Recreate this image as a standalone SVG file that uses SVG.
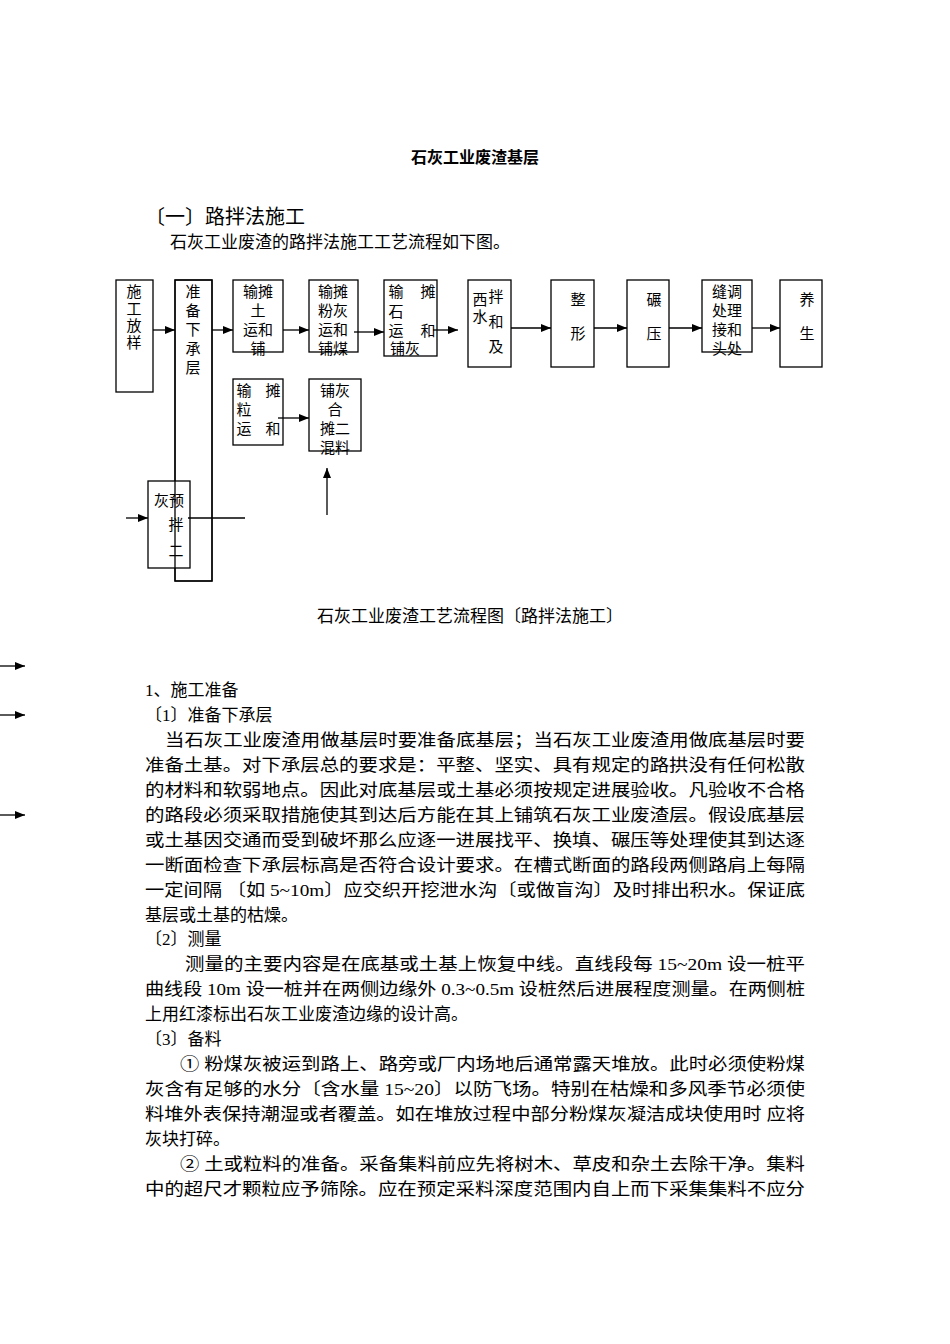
<svg xmlns="http://www.w3.org/2000/svg" width="950" height="1344" viewBox="0 0 950 1344">
<defs><marker id="a" markerWidth="10" markerHeight="8" refX="10" refY="4" orient="auto" markerUnits="userSpaceOnUse"><path d="M0,0L10,4L0,8z" fill="#000"/></marker></defs>
<style>
text{font-family:"Liberation Serif","Noto Sans CJK SC",serif;fill:#000}
.b{font-size:17px}
.n{font-size:15px;text-anchor:middle}
.bx{fill:#fff;stroke:#000;stroke-width:1.3}
line{stroke:#000;stroke-width:1.3}
.ar{marker-end:url(#a)}
</style>
<rect width="950" height="1344" fill="#fff"/>
<text x="475" y="163" font-size="16" font-weight="bold" text-anchor="middle">石灰工业废渣基层</text>
<text x="145" y="224" font-size="20">〔一〕路拌法施工</text>
<text x="170" y="248" class="b">石灰工业废渣的路拌法施工工艺流程如下图。</text>
<g id="n2"><rect class="bx" x="175" y="280" width="37" height="301"/><text class="n" x="193" y="297">准</text><text class="n" x="193" y="316">备</text><text class="n" x="193" y="335">下</text><text class="n" x="193" y="354">承</text><text class="n" x="193" y="373">层</text></g>
<g id="n1"><rect class="bx" x="116" y="280" width="37" height="112"/><text class="n" x="134" y="297">施</text><text class="n" x="134" y="314">工</text><text class="n" x="134" y="331">放</text><text class="n" x="134" y="348">样</text></g>
<g id="n3"><rect class="bx" x="233" y="280" width="50" height="72"/><text class="n" x="258" y="297">输摊</text><text class="n" x="258" y="316">土</text><text class="n" x="258" y="335">运和</text><text class="n" x="258" y="354">铺</text></g>
<g id="n4"><rect class="bx" x="309" y="280" width="49" height="72"/><text class="n" x="333" y="297">输摊</text><text class="n" x="333" y="316">粉灰</text><text class="n" x="333" y="335">运和</text><text class="n" x="333" y="354">铺煤</text></g>
<g id="n5"><rect class="bx" x="384" y="280" width="53" height="76"/><text class="n" x="396" y="297">输</text><text class="n" x="428" y="297">摊</text><text class="n" x="396" y="317">石</text><text class="n" x="396" y="336">运</text><text class="n" x="428" y="336">和</text><text class="n" x="405" y="354">铺灰</text></g>
<g id="n6"><rect class="bx" x="468" y="280" width="43" height="87"/><text class="n" x="480" y="305">西</text><text class="n" x="496" y="302">拌</text><text class="n" x="480" y="322">水</text><text class="n" x="496" y="327">和</text><text class="n" x="496" y="352">及</text></g>
<g id="n7"><rect class="bx" x="551" y="280" width="43" height="87"/><text class="n" x="578" y="305">整</text><text class="n" x="578" y="339">形</text></g>
<g id="n8"><rect class="bx" x="627" y="280" width="42" height="87"/><text class="n" x="654" y="305">碾</text><text class="n" x="654" y="339">压</text></g>
<g id="n9"><rect class="bx" x="702" y="280" width="50" height="72"/><text class="n" x="727" y="297">缝调</text><text class="n" x="727" y="316">处理</text><text class="n" x="727" y="335">接和</text><text class="n" x="727" y="354">头处</text></g>
<g id="n10"><rect class="bx" x="780" y="280" width="42" height="87"/><text class="n" x="807" y="305">养</text><text class="n" x="807" y="339">生</text></g>
<g id="n11"><rect class="bx" x="233" y="379" width="50" height="66"/><text class="n" x="244" y="396">输</text><text class="n" x="273" y="396">摊</text><text class="n" x="244" y="415">粒</text><text class="n" x="244" y="434">运</text><text class="n" x="273" y="434">和</text></g>
<g id="n12"><rect class="bx" x="309" y="379" width="52" height="72"/><text class="n" x="335" y="396">铺灰</text><text class="n" x="335" y="415">合</text><text class="n" x="335" y="434">摊二</text><text class="n" x="335" y="453">混料</text></g>
<g id="n13"><rect class="bx" x="148" y="481" width="42" height="87"/><text class="n" x="169" y="506">灰预</text><text class="n" x="176" y="530">拌</text><text class="n" x="176" y="556">二</text></g>
<rect x="175" y="280" width="37" height="301" fill="none" stroke="#000" stroke-width="1.3"/>
<g id="connectors">
<line class="ar" x1="153" y1="330" x2="175" y2="330"/>
<line class="ar" x1="212" y1="330" x2="233" y2="330"/>
<line class="ar" x1="283" y1="330" x2="309" y2="330"/>
<line class="ar" x1="354" y1="332" x2="384" y2="332"/>
<line class="ar" x1="433" y1="330" x2="458" y2="330"/>
<line class="ar" x1="511" y1="328" x2="551" y2="328"/>
<line class="ar" x1="594" y1="328" x2="627" y2="328"/>
<line class="ar" x1="669" y1="328" x2="702" y2="328"/>
<line class="ar" x1="752" y1="328" x2="780" y2="328"/>
<line class="ar" x1="278" y1="418" x2="309" y2="418"/>
<line class="ar" x1="327" y1="515" x2="327" y2="468"/>
<line class="ar" x1="126" y1="518" x2="148" y2="518"/>
<line x1="188" y1="518" x2="245" y2="518"/>
<line class="ar" x1="0" y1="666" x2="25" y2="666"/>
<line class="ar" x1="0" y1="715" x2="25" y2="715"/>
<line class="ar" x1="0" y1="815" x2="25" y2="815"/>
</g>
<text x="470" y="622" class="b" text-anchor="middle">石灰工业废渣工艺流程图〔路拌法施工〕</text>
<g>
<text x="145" y="696" class="b">1、施工准备</text>
<text x="145" y="721" class="b">〔1〕准备下承层</text>
<text x="165" y="746" class="b" textLength="640" lengthAdjust="spacingAndGlyphs">当石灰工业废渣用做基层时要准备底基层；当石灰工业废渣用做底基层时要</text>
<text x="145" y="771" class="b" textLength="660" lengthAdjust="spacingAndGlyphs">准备土基。对下承层总的要求是：平整、坚实、具有规定的路拱没有任何松散</text>
<text x="145" y="796" class="b" textLength="660" lengthAdjust="spacingAndGlyphs">的材料和软弱地点。因此对底基层或土基必须按规定进展验收。凡验收不合格</text>
<text x="145" y="821" class="b" textLength="660" lengthAdjust="spacingAndGlyphs">的路段必须采取措施使其到达后方能在其上铺筑石灰工业废渣层。假设底基层</text>
<text x="145" y="846" class="b" textLength="660" lengthAdjust="spacingAndGlyphs">或土基因交通而受到破坏那么应逐一进展找平、换填、碾压等处理使其到达逐</text>
<text x="145" y="871" class="b" textLength="660" lengthAdjust="spacingAndGlyphs">一断面检查下承层标高是否符合设计要求。在槽式断面的路段两侧路肩上每隔</text>
<text x="145" y="896" class="b" textLength="660" lengthAdjust="spacingAndGlyphs">一定间隔 〔如 5~10m〕应交织开挖泄水沟〔或做盲沟〕及时排出积水。保证底</text>
<text x="145" y="921" class="b">基层或土基的枯燥。</text>
<text x="145" y="945" class="b">〔2〕测量</text>
<text x="185" y="970" class="b" textLength="620" lengthAdjust="spacingAndGlyphs">测量的主要内容是在底基或土基上恢复中线。直线段每 15~20m 设一桩平</text>
<text x="145" y="995" class="b" textLength="660" lengthAdjust="spacingAndGlyphs">曲线段 10m 设一桩并在两侧边缘外 0.3~0.5m 设桩然后进展程度测量。在两侧桩</text>
<text x="145" y="1020" class="b">上用红漆标出石灰工业废渣边缘的设计高。</text>
<text x="145" y="1045" class="b">〔3〕备料</text>
<text x="180" y="1070" class="b" textLength="625" lengthAdjust="spacingAndGlyphs">① 粉煤灰被运到路上、路旁或厂内场地后通常露天堆放。此时必须使粉煤</text>
<text x="145" y="1095" class="b" textLength="660" lengthAdjust="spacingAndGlyphs">灰含有足够的水分〔含水量 15~20〕以防飞场。特别在枯燥和多风季节必须使</text>
<text x="145" y="1120" class="b" textLength="660" lengthAdjust="spacingAndGlyphs">料堆外表保持潮湿或者覆盖。如在堆放过程中部分粉煤灰凝洁成块使用时 应将</text>
<text x="145" y="1145" class="b">灰块打碎。</text>
<text x="180" y="1170" class="b" textLength="625" lengthAdjust="spacingAndGlyphs">② 土或粒料的准备。采备集料前应先将树木、草皮和杂土去除干净。集料</text>
<text x="145" y="1195" class="b" textLength="660" lengthAdjust="spacingAndGlyphs">中的超尺才颗粒应予筛除。应在预定采料深度范围内自上而下采集集料不应分</text>
</g>
</svg>
